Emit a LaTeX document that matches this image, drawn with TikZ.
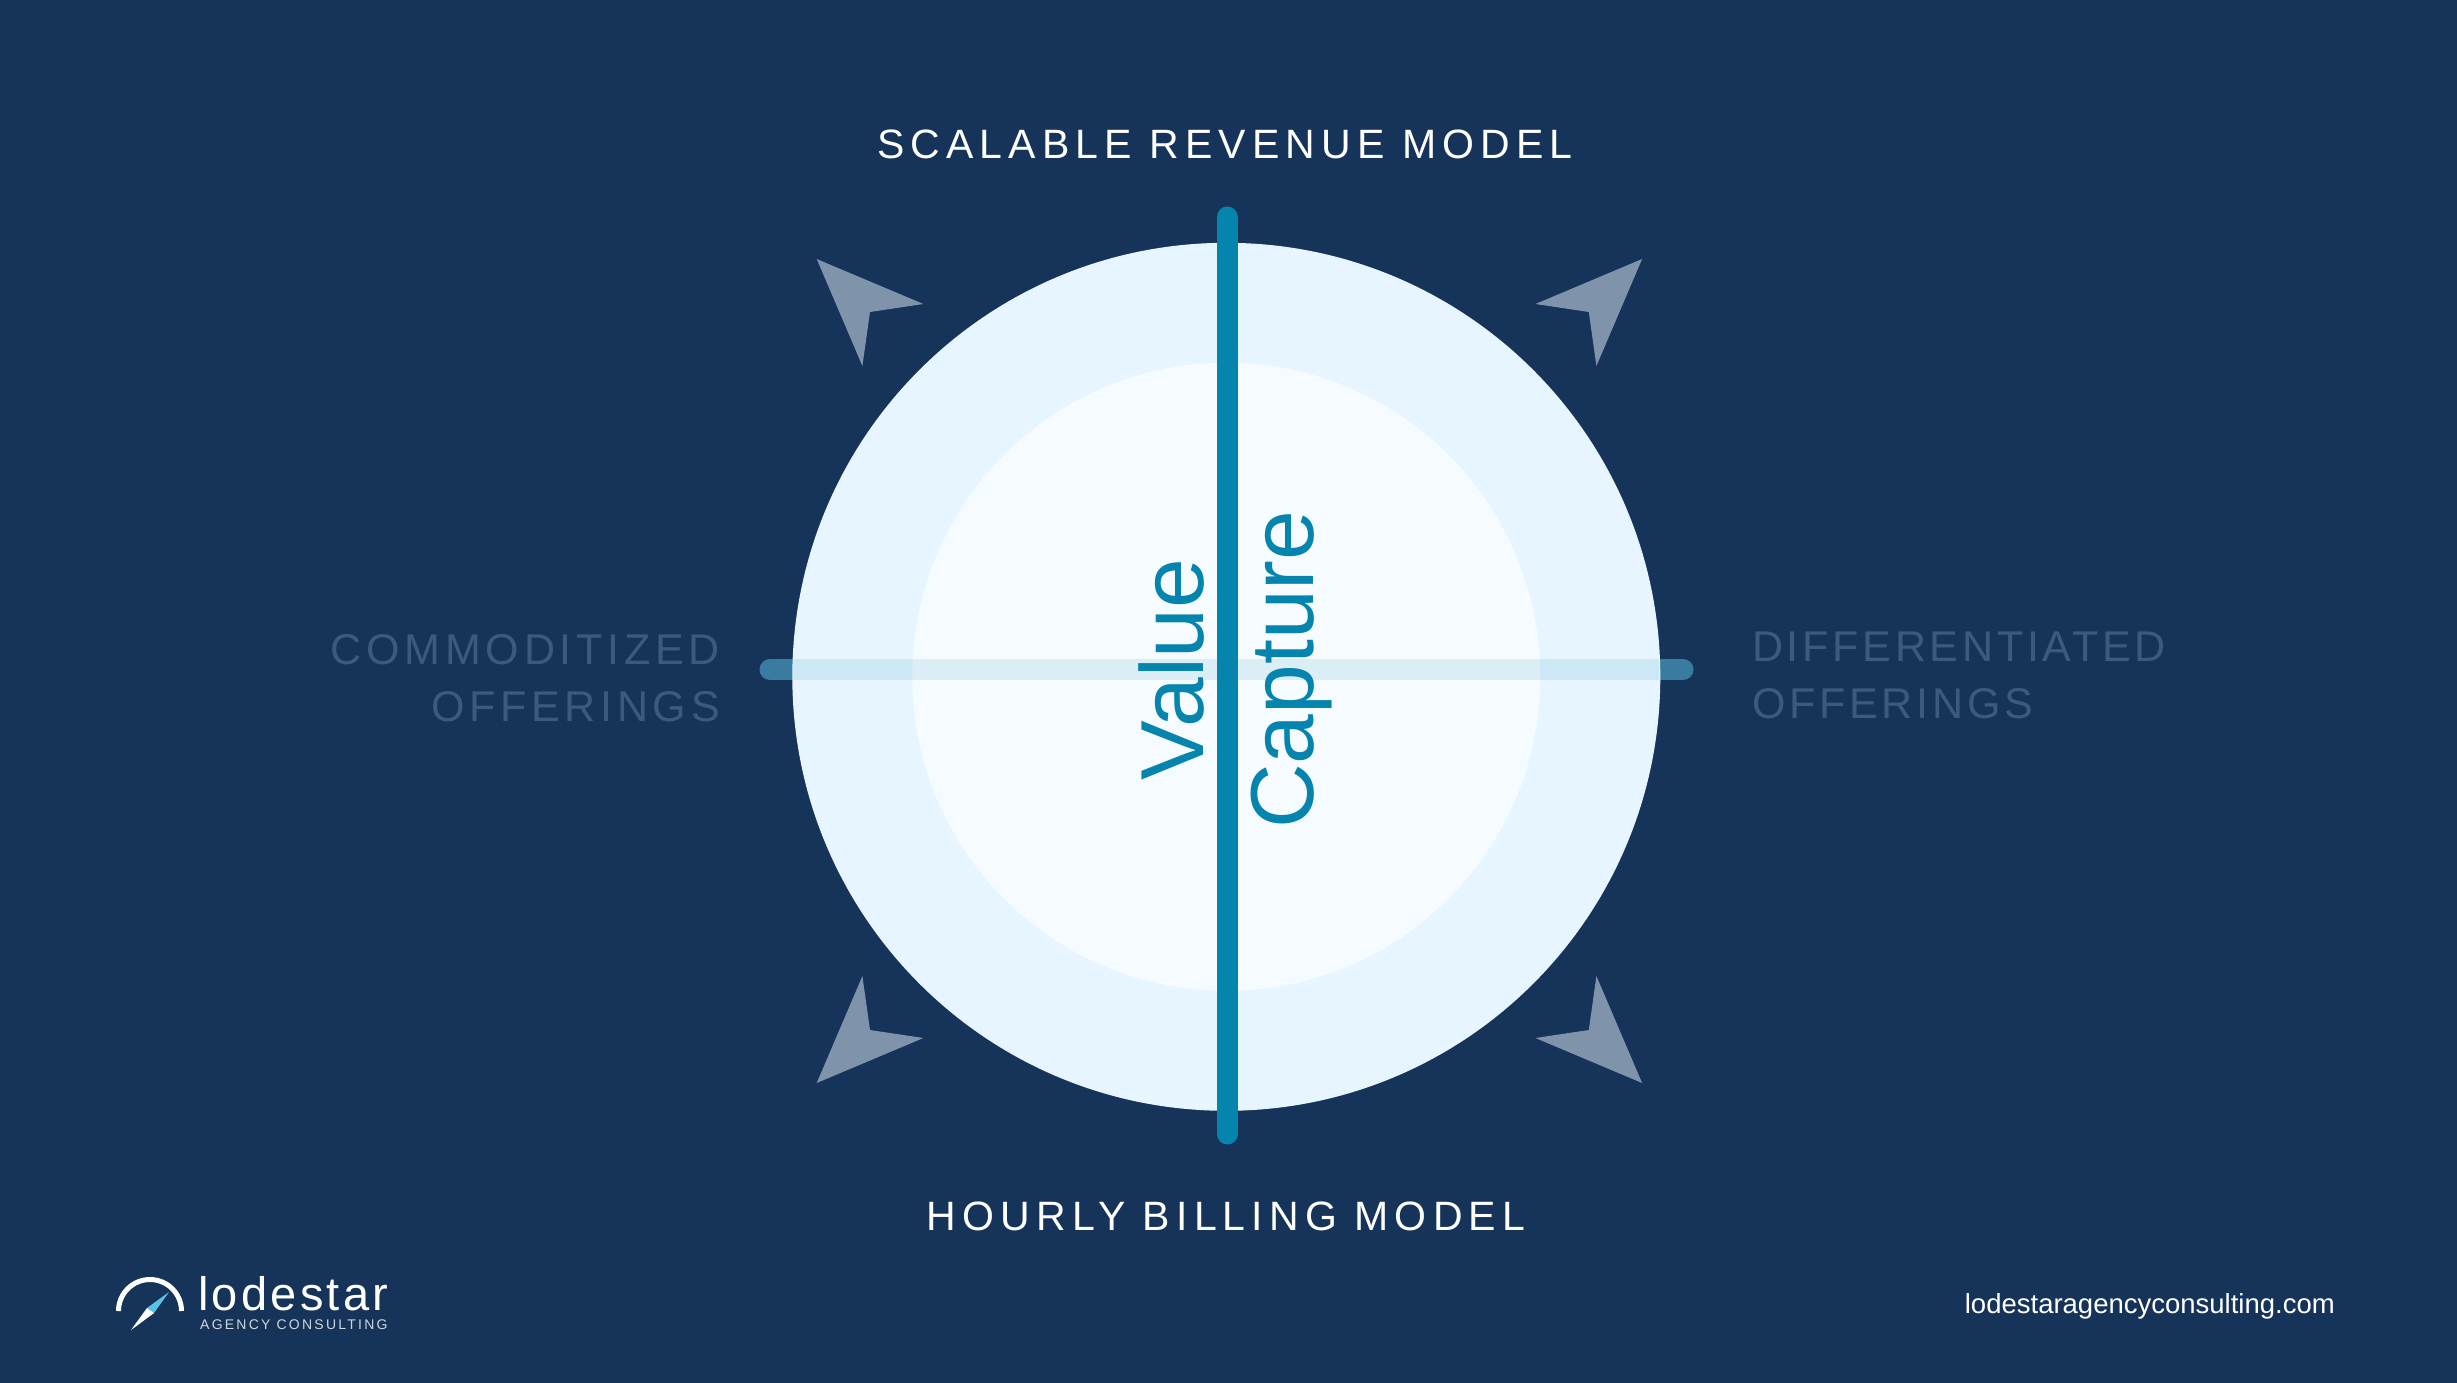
\documentclass[tikz,border=0pt]{standalone}
\usepackage{fontspec}
\setmainfont{Liberation Sans}
\newfontfamily\spacedfont[LetterSpace=15]{Liberation Sans}
\newfontfamily\fadedfont[LetterSpace=11]{Liberation Sans}
\newfontfamily\narrowfont[LetterSpace=8.7]{Liberation Sans}
\newfontfamily\logofont[LetterSpace=7]{Liberation Sans}
\newfontfamily\tinyfont[LetterSpace=16]{Liberation Sans}
\definecolor{navy}{HTML}{16335A}
\definecolor{ringblue}{HTML}{E6F5FF}
\definecolor{coreblue}{HTML}{F6FBFF}
\definecolor{teal}{HTML}{0584AD}
\definecolor{stubblue}{HTML}{3A7CA0}
\definecolor{fadedtext}{HTML}{3D5A7D}
\definecolor{pointer}{HTML}{7F93AB}
\definecolor{needleblue}{HTML}{5BC2E7}
\tikzset{
  axislabel/.style={inner sep=0pt,text=white,font=\fontsize{41}{41}\spacedfont},
  fadedlabel/.style={inner sep=0pt,text=fadedtext,align=#1,font=\fontsize{43}{57}\fadedfont},
  bigword/.style={inner sep=0pt,text=teal,rotate=90,anchor=base west,font=\fontsize{89.5}{89.5}\selectfont},
}
\begin{document}
\begin{tikzpicture}[x=1pt,y=-1pt]
  \useasboundingbox (0,0) rectangle (2457,1382);
  \fill[navy] (-3,-3) rectangle (2460,1386);
   \coordinate (Centre) at (1226.3,676.8);
   \coordinate (Top) at (1227,217);
   \coordinate (Bottom) at (1227,1134);
   \coordinate (Left) at (770,669.5);
   \coordinate (Right) at (1683,669.5);
   \coordinate (RimLeft) at (793,669.5);
   \coordinate (RimRight) at (1659,669.5);
  % horizontal axis, stubs first, circles go over them
  \draw[stubblue,line width=21pt,line cap=round] (Left) -- (Right);
  \fill[ringblue] (Centre) circle (434);
  \fill[coreblue] (Centre) circle (314);
  \draw[teal,line width=21pt,opacity=.11] (RimLeft) -- (RimRight);
  \draw[teal,line width=21pt,line cap=round] (Top) -- (Bottom);
  % four pointers
  \foreach \sx/\sy in {1/1,-1/1,1/-1,-1/-1}{%
    \fill[pointer,shift={(1229.4,671)},xscale=\sx,yscale=\sy]
      (-412.7,-412) -- (-306,-367) -- (-359.4,-359) -- (-367,-305) -- cycle;
  }
  \node[axislabel] (revenue) at (1225,144) {SCALABLE REVENUE MODEL};
  \node[axislabel] (billing) at (1226,1216) {HOURLY BILLING MODEL};
  \node[fadedlabel=right,anchor=east] (commodity) at (720,678) {COMMODITIZED\\OFFERINGS};
  \node[fadedlabel=left,anchor=west,font=\fontsize{43}{57}\narrowfont] (different) at (1752,675) {DIFFERENTIATED\\OFFERINGS};
  \node[bigword] (value) at (1203,781) {Value};
  \node[bigword] (capture) at (1313,829) {Capture};
  % logo
  \draw[white,line width=5pt] (118.5,1311) arc (180:360:31.5);
  \fill[needleblue] (169,1292) -- (147,1308) -- (154,1313) -- cycle;
  \fill[white] (131,1330) -- (147,1308) -- (154,1313) -- cycle;
  \node[inner sep=0pt,anchor=base west,text=white,font=\fontsize{47}{47}\logofont] (lodestar) at (198,1310) {lodestar};
  \node[inner sep=0pt,anchor=base west,text=white!80!navy,font=\fontsize{14}{14}\tinyfont] (agency) at (200,1329) {AGENCY CONSULTING};
  \node[inner sep=0pt,anchor=base east,text=white,font=\fontsize{27.5}{27.5}\selectfont] (website) at (2335,1313) {lodestaragencyconsulting.com};
\end{tikzpicture}
\end{document}
